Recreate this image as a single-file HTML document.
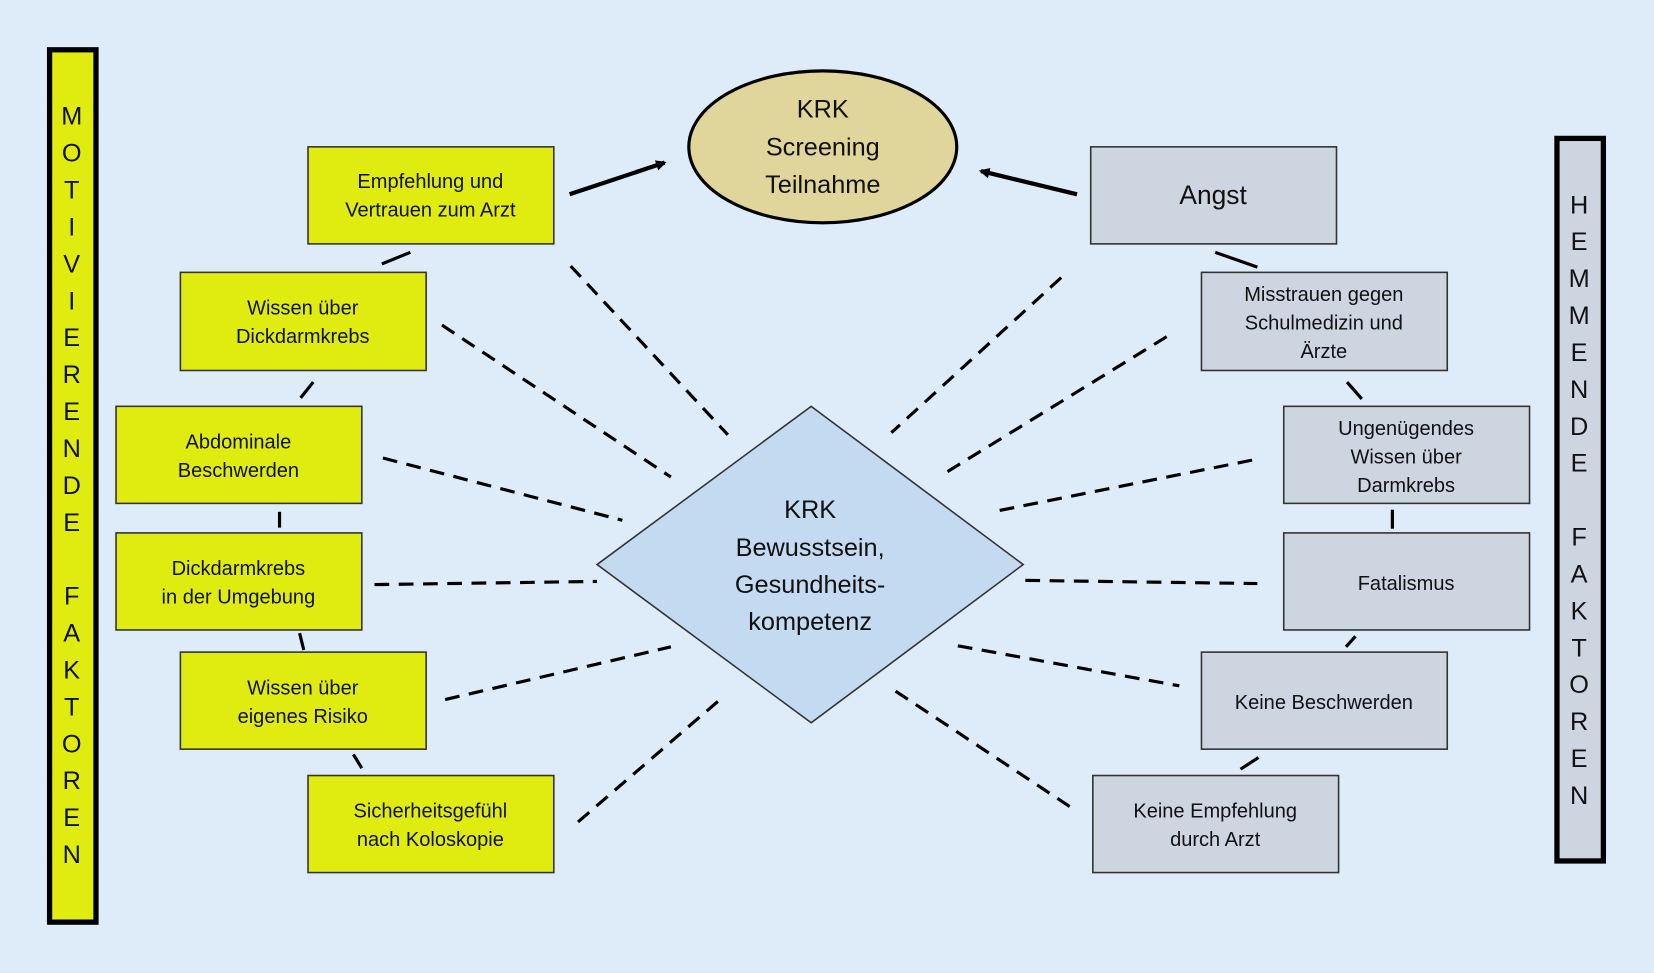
<!DOCTYPE html>
<html><head><meta charset="utf-8"><style>
html,body{margin:0;padding:0;background:#deebf8;}
svg{display:block;}
text{font-family:"Liberation Sans",sans-serif;fill:#111;}
</style></head><body>
<svg width="1654" height="973" viewBox="0 0 1568 922" xmlns="http://www.w3.org/2000/svg">
<defs><marker id="ah" markerWidth="10" markerHeight="10" refX="8" refY="5" orient="auto" markerUnits="userSpaceOnUse"><path d="M0,0 L10,5 L0,10 z" fill="#000"/></marker></defs>
<rect width="1568" height="922" fill="#deebf8"/>
<rect x="47" y="47" width="44" height="827" fill="#e0ec10" stroke="#000" stroke-width="5"/>
<rect x="1476" y="131" width="44" height="685" fill="#cdd5e0" stroke="#000" stroke-width="5"/>
<g font-size="24" text-anchor="middle">
<text x="68" y="118">M</text><text x="68" y="153">O</text><text x="68" y="188">T</text><text x="68" y="223">I</text><text x="68" y="258">V</text><text x="68" y="293">I</text><text x="68" y="328">E</text><text x="68" y="363">R</text><text x="68" y="398">E</text><text x="68" y="433">N</text><text x="68" y="468">D</text><text x="68" y="503">E</text><text x="68" y="573">F</text><text x="68" y="608">A</text><text x="68" y="643">K</text><text x="68" y="678">T</text><text x="68" y="713">O</text><text x="68" y="748">R</text><text x="68" y="783">E</text><text x="68" y="818">N</text>
<text x="1497" y="202">H</text><text x="1497" y="237">E</text><text x="1497" y="272">M</text><text x="1497" y="307">M</text><text x="1497" y="342">E</text><text x="1497" y="377">N</text><text x="1497" y="412">D</text><text x="1497" y="447">E</text><text x="1497" y="517">F</text><text x="1497" y="552">A</text><text x="1497" y="587">K</text><text x="1497" y="622">T</text><text x="1497" y="657">O</text><text x="1497" y="692">R</text><text x="1497" y="727">E</text><text x="1497" y="762">N</text>
</g>
<g stroke="#000" stroke-width="3" stroke-dasharray="14,9" fill="none">
<line x1="541" y1="252" x2="690" y2="412"/><line x1="419" y1="308" x2="636" y2="452"/><line x1="363" y1="434" x2="590" y2="493"/><line x1="355" y1="554" x2="566" y2="551"/><line x1="422" y1="663" x2="636" y2="613"/><line x1="548" y1="779" x2="686" y2="660"/>
<line x1="1006" y1="263" x2="845" y2="410"/><line x1="1106" y1="319" x2="898" y2="447"/><line x1="1187" y1="436" x2="946" y2="484"/><line x1="972" y1="550" x2="1192" y2="553"/><line x1="908" y1="612" x2="1118" y2="650"/><line x1="849" y1="655" x2="1021" y2="769"/>
</g>
<g stroke="#000" stroke-width="3">
<line x1="362" y1="250" x2="389" y2="239"/><line x1="297" y1="362" x2="285" y2="377"/><line x1="265" y1="485" x2="265" y2="500"/><line x1="284" y1="600" x2="288" y2="616"/><line x1="335" y1="715" x2="343" y2="728"/>
<line x1="1152" y1="239" x2="1192" y2="253"/><line x1="1277" y1="362" x2="1291" y2="378"/><line x1="1320" y1="483" x2="1320" y2="501"/><line x1="1285" y1="603" x2="1276" y2="613"/><line x1="1193" y1="718" x2="1176" y2="729"/>
</g>
<g stroke="#000" stroke-width="4">
<line x1="540" y1="184" x2="630" y2="154" marker-end="url(#ah)"/>
<line x1="1021" y1="184" x2="930" y2="162" marker-end="url(#ah)"/>
</g>
<ellipse cx="780" cy="139" rx="127" ry="72" fill="#e0d59a" stroke="#000" stroke-width="3"/>
<g font-size="24" text-anchor="middle"><text x="780" y="111">KRK</text><text x="780" y="147">Screening</text><text x="780" y="183">Teilnahme</text></g>
<polygon points="769,385 970,535 769,685 566,535" fill="#c3daf1" stroke="#333" stroke-width="1.5"/>
<g font-size="24" text-anchor="middle"><text x="768" y="491">KRK</text><text x="768" y="527">Bewusstsein,</text><text x="768" y="562">Gesundheits-</text><text x="768" y="597">kompetenz</text></g>
<g fill="#e0ec10" stroke="#333" stroke-width="1.5">
<rect x="292" y="139" width="233" height="92"/><rect x="171" y="258" width="233" height="93"/><rect x="110" y="385" width="233" height="92"/><rect x="110" y="505" width="233" height="92"/><rect x="171" y="618" width="233" height="92"/><rect x="292" y="735" width="233" height="92"/>
</g>
<g fill="#cdd5e0" stroke="#333" stroke-width="1.5">
<rect x="1034" y="139" width="233" height="92"/><rect x="1139" y="258" width="233" height="93"/><rect x="1217" y="385" width="233" height="92"/><rect x="1217" y="505" width="233" height="92"/><rect x="1139" y="618" width="233" height="92"/><rect x="1036" y="735" width="233" height="92"/>
</g>
<g font-size="19" text-anchor="middle">
<text x="408" y="178">Empfehlung und</text><text x="408" y="205">Vertrauen zum Arzt</text>
<text x="287" y="298">Wissen über</text><text x="287" y="325">Dickdarmkrebs</text>
<text x="226" y="425">Abdominale</text><text x="226" y="452">Beschwerden</text>
<text x="226" y="545">Dickdarmkrebs</text><text x="226" y="572">in der Umgebung</text>
<text x="287" y="658">Wissen über</text><text x="287" y="685">eigenes Risiko</text>
<text x="408" y="775">Sicherheitsgefühl</text><text x="408" y="802">nach Koloskopie</text>
<text x="1150" y="193" font-size="25">Angst</text>
<text x="1255" y="285">Misstrauen gegen</text><text x="1255" y="312">Schulmedizin und</text><text x="1255" y="339">Ärzte</text>
<text x="1333" y="412">Ungenügendes</text><text x="1333" y="439">Wissen über</text><text x="1333" y="466">Darmkrebs</text>
<text x="1333" y="559">Fatalismus</text>
<text x="1255" y="672">Keine Beschwerden</text>
<text x="1152" y="775">Keine Empfehlung</text><text x="1152" y="802">durch Arzt</text>
</g>
</svg>
</body></html>
